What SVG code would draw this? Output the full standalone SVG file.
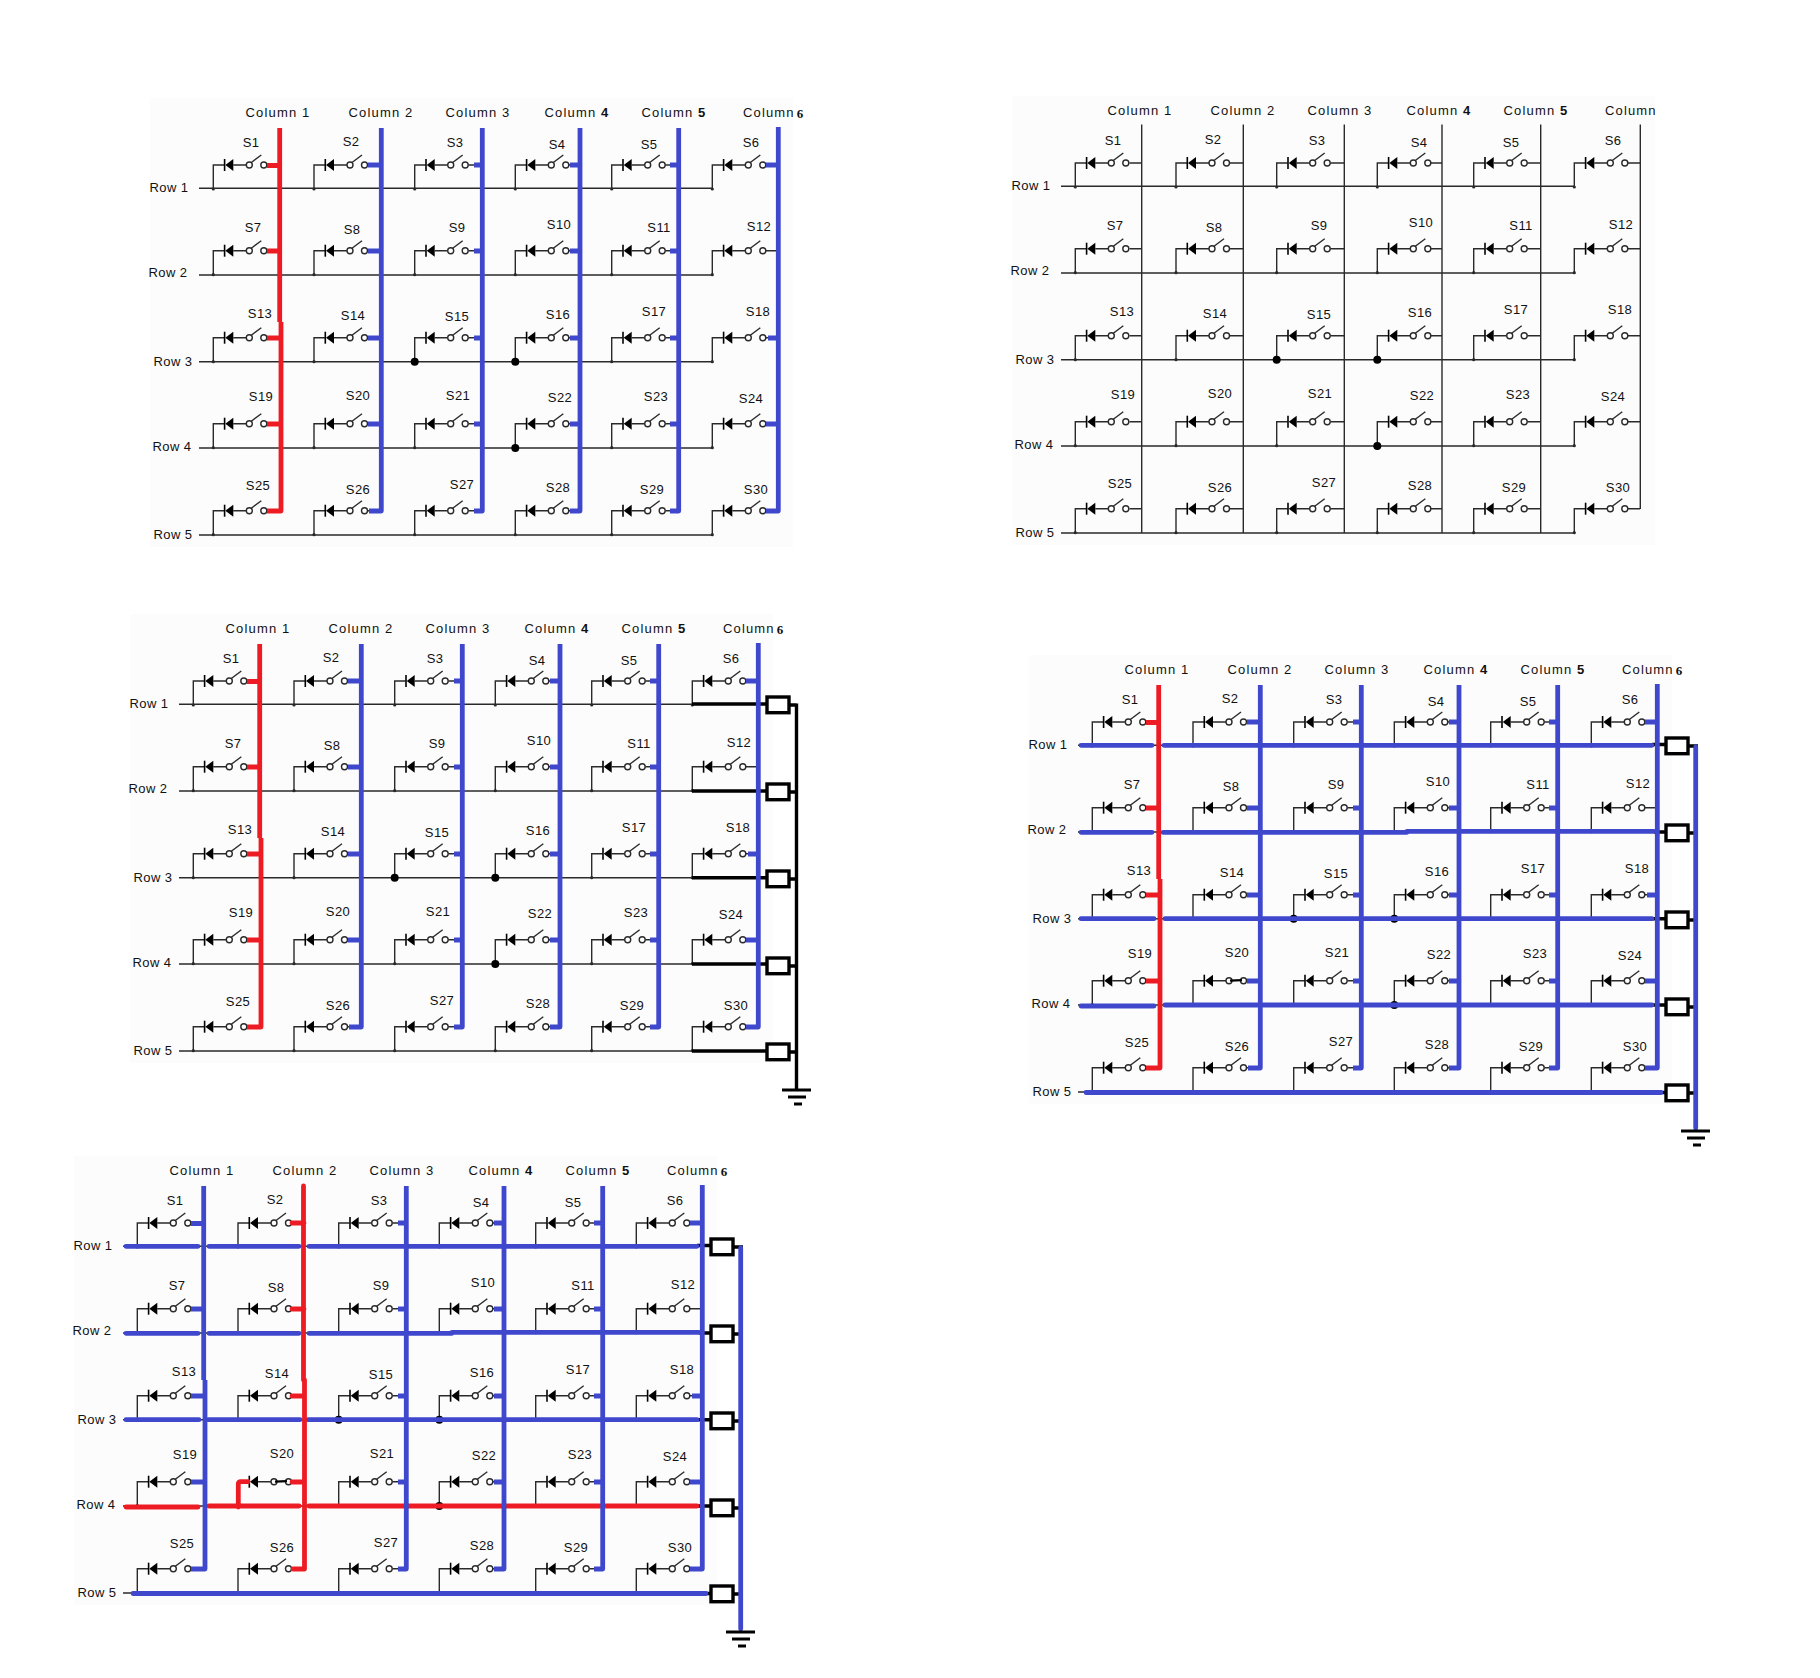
<svg xmlns="http://www.w3.org/2000/svg" width="1820" height="1678" viewBox="0 0 1820 1678">
<style>
.t{font-family:"Liberation Sans",Arial,sans-serif;font-size:13px;fill:#111;text-anchor:middle;letter-spacing:.4px;transform:translate(0,-.7px)}
.h{letter-spacing:1.15px;transform:translate(1px,-1px)}
.l{text-anchor:start;transform:translate(0,-1px)}
.d{font-family:"Liberation Serif",serif;font-weight:bold}
.b{font-weight:bold}
.bg{fill:#fcfcfc}
.n{fill:none;stroke:#2a2a2a;stroke-width:1.4}
.k{fill:none;stroke:#000;stroke-width:3.4}
.bl{fill:none;stroke:#3f48cc;stroke-width:4.8;stroke-linecap:round;stroke-linejoin:round}
.re{fill:none;stroke:#ed1c24;stroke-width:4.8;stroke-linecap:round;stroke-linejoin:round}
.bx{fill:#fff;stroke:#000;stroke-width:3.4}
</style>
<defs>
<g id="sw0">
<path class="n" d="M0 24V0H11M20 0H33"/>
<circle cx="0" cy="24" r="1.6" fill="#2a2a2a"/>
<path d="M11.3-6V6" stroke="#000" stroke-width="1.6" fill="none"/>
<polygon points="12,0 20,-6 20,6" fill="#000"/>
<circle class="n" cx="36" cy="0" r="3" style="fill:#fff"/>
<circle class="n" cx="50.5" cy="0" r="3" style="fill:#fff"/>
</g>
<g id="sw"><use href="#sw0"/><path class="n" d="M38-2.5L48-10"/></g>
<g id="swc"><use href="#sw0"/><path d="M37 0L49-.6" fill="none" stroke="#000" stroke-width="2.2"/></g>
<path id="tm" class="n" d="M267.5 0H280M368 0H381M468.5 0H482M569 0H580M665.5 0H679M766 0H778"/>
<path id="rw" class="n" d="M199 0H712.3"/>
<path id="c1" stroke-linecap="butt" d="M279.7 128V322M281 322V511H267M267 165.5H280M267 251H280M267 338H281M267 424H281"/>
<path id="c2" stroke-linecap="butt" d="M381.3 128V511H369M368 165H381M368 251H381M368 338H381M368 424H381"/>
<path id="c3" stroke-linecap="butt" d="M482.3 128V511H474M474 165H482M474 251H482M474 338H482M474 424H482"/>
<path id="c4" stroke-linecap="butt" d="M580 128V511H570M570 165H580M570 251H580M570 338H580M570 424H580"/>
<path id="c5" stroke-linecap="butt" d="M678.7 128V511H670M670 165H678M670 251H678M670 338H678M670 424H678"/>
<path id="c6" stroke-linecap="butt" d="M778.3 127V511H766M766 165H778M768 338H778M766 424H778"/>
<g id="dots" fill="#000"><circle cx="414.7" cy="361.7" r="4"/><circle cx="515.3" cy="361.7" r="4"/><circle cx="515.3" cy="448" r="4"/></g>
<g id="gnd" fill="none" stroke="#000" stroke-width="3"><path d="M802 574H831M808 581H826M814 588H822"/></g>
<g id="base"><use href="#rw" y="188.3"/><use href="#rw" y="275"/><use href="#rw" y="361.7"/><use href="#rw" y="448"/><use href="#rw" y="535"/><use href="#tm" y="165"/><use href="#tm" y="250.7"/><use href="#tm" y="337.7"/><use href="#tm" y="423.7"/><use href="#tm" y="510.7"/><use href="#dots"/></g>
<g id="blues"><use href="#c3" class="bl"/><use href="#c4" class="bl"/><use href="#c5" class="bl"/><use href="#c6" class="bl"/></g>
<g id="boxes"><rect class="bx" x="787" y="181" width="22" height="15.7"/><rect class="bx" x="787" y="268" width="22" height="15.7"/><rect class="bx" x="787" y="355" width="22" height="15.7"/><rect class="bx" x="787" y="442" width="22" height="15.7"/><rect class="bx" x="787" y="528" width="22" height="15.7"/></g>
</defs>
<rect width="1820" height="1678" fill="#fff"/>

<g id="panel1">
<rect class="bg" x="150" y="98" width="643" height="449"/>
<g id="p1-labels">
<text class="t h" x="277" y="118">Column 1</text><text class="t h" x="380" y="118">Column 2</text><text class="t h" x="477" y="118">Column 3</text><text class="t h" x="576" y="118">Column <tspan class="b">4</tspan></text><text class="t h" x="673" y="118">Column <tspan class="b">5</tspan></text><text class="t h l" x="743" y="118">Column<tspan class="d" dx="2" dy="1">6</tspan></text>
<text class="t" x="169" y="193">Row 1</text><text class="t" x="168" y="278">Row 2</text><text class="t" x="173" y="367">Row 3</text><text class="t" x="172" y="452">Row 4</text><text class="t" x="173" y="540">Row 5</text>
</g>
<g id="p1-s1"><use href="#sw" x="213.3" y="165"/><text class="t" x="251" y="148">S1</text></g>
<g id="p1-s2"><use href="#sw" x="314" y="165"/><text class="t" x="351" y="147">S2</text></g>
<g id="p1-s3"><use href="#sw" x="414.7" y="165"/><text class="t" x="455" y="148">S3</text></g>
<g id="p1-s4"><use href="#sw" x="515.3" y="165"/><text class="t" x="557" y="150">S4</text></g>
<g id="p1-s5"><use href="#sw" x="611.7" y="165"/><text class="t" x="649" y="150">S5</text></g>
<g id="p1-s6"><use href="#sw" x="712.3" y="165"/><text class="t" x="751" y="148">S6</text></g>
<g id="p1-s7"><use href="#sw" x="213.3" y="250.7"/><text class="t" x="253" y="233">S7</text></g>
<g id="p1-s8"><use href="#sw" x="314" y="250.7"/><text class="t" x="352" y="235">S8</text></g>
<g id="p1-s9"><use href="#sw" x="414.7" y="250.7"/><text class="t" x="457" y="233">S9</text></g>
<g id="p1-s10"><use href="#sw" x="515.3" y="250.7"/><text class="t" x="559" y="230">S10</text></g>
<g id="p1-s11"><use href="#sw" x="611.7" y="250.7"/><text class="t" x="659" y="233">S11</text></g>
<g id="p1-s12"><use href="#sw" x="712.3" y="250.7"/><text class="t" x="759" y="232">S12</text></g>
<g id="p1-s13"><use href="#sw" x="213.3" y="337.7"/><text class="t" x="260" y="319">S13</text></g>
<g id="p1-s14"><use href="#sw" x="314" y="337.7"/><text class="t" x="353" y="321">S14</text></g>
<g id="p1-s15"><use href="#sw" x="414.7" y="337.7"/><text class="t" x="457" y="322">S15</text></g>
<g id="p1-s16"><use href="#sw" x="515.3" y="337.7"/><text class="t" x="558" y="320">S16</text></g>
<g id="p1-s17"><use href="#sw" x="611.7" y="337.7"/><text class="t" x="654" y="317">S17</text></g>
<g id="p1-s18"><use href="#sw" x="712.3" y="337.7"/><text class="t" x="758" y="317">S18</text></g>
<g id="p1-s19"><use href="#sw" x="213.3" y="423.7"/><text class="t" x="261" y="402">S19</text></g>
<g id="p1-s20"><use href="#sw" x="314" y="423.7"/><text class="t" x="358" y="401">S20</text></g>
<g id="p1-s21"><use href="#sw" x="414.7" y="423.7"/><text class="t" x="458" y="401">S21</text></g>
<g id="p1-s22"><use href="#sw" x="515.3" y="423.7"/><text class="t" x="560" y="403">S22</text></g>
<g id="p1-s23"><use href="#sw" x="611.7" y="423.7"/><text class="t" x="656" y="402">S23</text></g>
<g id="p1-s24"><use href="#sw" x="712.3" y="423.7"/><text class="t" x="751" y="404">S24</text></g>
<g id="p1-s25"><use href="#sw" x="213.3" y="510.7"/><text class="t" x="258" y="491">S25</text></g>
<g id="p1-s26"><use href="#sw" x="314" y="510.7"/><text class="t" x="358" y="495">S26</text></g>
<g id="p1-s27"><use href="#sw" x="414.7" y="510.7"/><text class="t" x="462" y="490">S27</text></g>
<g id="p1-s28"><use href="#sw" x="515.3" y="510.7"/><text class="t" x="558" y="493">S28</text></g>
<g id="p1-s29"><use href="#sw" x="611.7" y="510.7"/><text class="t" x="652" y="495">S29</text></g>
<g id="p1-s30"><use href="#sw" x="712.3" y="510.7"/><text class="t" x="756" y="495">S30</text></g>
<g id="p1-connectors"><use href="#base"/><use href="#c1" class="re"/><use href="#c2" class="bl"/><use href="#blues"/></g>
</g>

<g id="panel2" transform="translate(862,-2)">
<rect class="bg" x="150" y="98" width="643" height="449"/>
<g id="p2-labels">
<text class="t h" x="277" y="118">Column 1</text><text class="t h" x="380" y="118">Column 2</text><text class="t h" x="477" y="118">Column 3</text><text class="t h" x="576" y="118">Column <tspan class="b">4</tspan></text><text class="t h" x="673" y="118">Column <tspan class="b">5</tspan></text><text class="t h l" x="743" y="118">Column</text>
<text class="t" x="169" y="193">Row 1</text><text class="t" x="168" y="278">Row 2</text><text class="t" x="173" y="367">Row 3</text><text class="t" x="172" y="452">Row 4</text><text class="t" x="173" y="540">Row 5</text>
</g>
<g id="p2-s1"><use href="#sw" x="213.3" y="165"/><text class="t" x="251" y="148">S1</text></g>
<g id="p2-s2"><use href="#sw" x="314" y="165"/><text class="t" x="351" y="147">S2</text></g>
<g id="p2-s3"><use href="#sw" x="414.7" y="165"/><text class="t" x="455" y="148">S3</text></g>
<g id="p2-s4"><use href="#sw" x="515.3" y="165"/><text class="t" x="557" y="150">S4</text></g>
<g id="p2-s5"><use href="#sw" x="611.7" y="165"/><text class="t" x="649" y="150">S5</text></g>
<g id="p2-s6"><use href="#sw" x="712.3" y="165"/><text class="t" x="751" y="148">S6</text></g>
<g id="p2-s7"><use href="#sw" x="213.3" y="250.7"/><text class="t" x="253" y="233">S7</text></g>
<g id="p2-s8"><use href="#sw" x="314" y="250.7"/><text class="t" x="352" y="235">S8</text></g>
<g id="p2-s9"><use href="#sw" x="414.7" y="250.7"/><text class="t" x="457" y="233">S9</text></g>
<g id="p2-s10"><use href="#sw" x="515.3" y="250.7"/><text class="t" x="559" y="230">S10</text></g>
<g id="p2-s11"><use href="#sw" x="611.7" y="250.7"/><text class="t" x="659" y="233">S11</text></g>
<g id="p2-s12"><use href="#sw" x="712.3" y="250.7"/><text class="t" x="759" y="232">S12</text></g>
<g id="p2-s13"><use href="#sw" x="213.3" y="337.7"/><text class="t" x="260" y="319">S13</text></g>
<g id="p2-s14"><use href="#sw" x="314" y="337.7"/><text class="t" x="353" y="321">S14</text></g>
<g id="p2-s15"><use href="#sw" x="414.7" y="337.7"/><text class="t" x="457" y="322">S15</text></g>
<g id="p2-s16"><use href="#sw" x="515.3" y="337.7"/><text class="t" x="558" y="320">S16</text></g>
<g id="p2-s17"><use href="#sw" x="611.7" y="337.7"/><text class="t" x="654" y="317">S17</text></g>
<g id="p2-s18"><use href="#sw" x="712.3" y="337.7"/><text class="t" x="758" y="317">S18</text></g>
<g id="p2-s19"><use href="#sw" x="213.3" y="423.7"/><text class="t" x="261" y="402">S19</text></g>
<g id="p2-s20"><use href="#sw" x="314" y="423.7"/><text class="t" x="358" y="401">S20</text></g>
<g id="p2-s21"><use href="#sw" x="414.7" y="423.7"/><text class="t" x="458" y="401">S21</text></g>
<g id="p2-s22"><use href="#sw" x="515.3" y="423.7"/><text class="t" x="560" y="403">S22</text></g>
<g id="p2-s23"><use href="#sw" x="611.7" y="423.7"/><text class="t" x="656" y="402">S23</text></g>
<g id="p2-s24"><use href="#sw" x="712.3" y="423.7"/><text class="t" x="751" y="404">S24</text></g>
<g id="p2-s25"><use href="#sw" x="213.3" y="510.7"/><text class="t" x="258" y="491">S25</text></g>
<g id="p2-s26"><use href="#sw" x="314" y="510.7"/><text class="t" x="358" y="495">S26</text></g>
<g id="p2-s27"><use href="#sw" x="414.7" y="510.7"/><text class="t" x="462" y="490">S27</text></g>
<g id="p2-s28"><use href="#sw" x="515.3" y="510.7"/><text class="t" x="558" y="493">S28</text></g>
<g id="p2-s29"><use href="#sw" x="611.7" y="510.7"/><text class="t" x="652" y="495">S29</text></g>
<g id="p2-s30"><use href="#sw" x="712.3" y="510.7"/><text class="t" x="756" y="495">S30</text></g>
<g id="p2-connectors"><use href="#base"/><path class="n" d="M279.7 126.5V535M381.3 126.5V535M482.3 126.5V535M580 126.5V535M678.7 126.5V535M778.3 126.5V511"/></g>
</g>

<g id="panel3" transform="translate(-20,516)">
<rect class="bg" x="150" y="98" width="643" height="449"/>
<g id="p3-labels">
<text class="t h" x="277" y="118">Column 1</text><text class="t h" x="380" y="118">Column 2</text><text class="t h" x="477" y="118">Column 3</text><text class="t h" x="576" y="118">Column <tspan class="b">4</tspan></text><text class="t h" x="673" y="118">Column <tspan class="b">5</tspan></text><text class="t h l" x="743" y="118">Column<tspan class="d" dx="2" dy="1">6</tspan></text>
<text class="t" x="169" y="193">Row 1</text><text class="t" x="168" y="278">Row 2</text><text class="t" x="173" y="367">Row 3</text><text class="t" x="172" y="452">Row 4</text><text class="t" x="173" y="540">Row 5</text>
</g>
<g id="p3-s1"><use href="#sw" x="213.3" y="165"/><text class="t" x="251" y="148">S1</text></g>
<g id="p3-s2"><use href="#sw" x="314" y="165"/><text class="t" x="351" y="147">S2</text></g>
<g id="p3-s3"><use href="#sw" x="414.7" y="165"/><text class="t" x="455" y="148">S3</text></g>
<g id="p3-s4"><use href="#sw" x="515.3" y="165"/><text class="t" x="557" y="150">S4</text></g>
<g id="p3-s5"><use href="#sw" x="611.7" y="165"/><text class="t" x="649" y="150">S5</text></g>
<g id="p3-s6"><use href="#sw" x="712.3" y="165"/><text class="t" x="751" y="148">S6</text></g>
<g id="p3-s7"><use href="#sw" x="213.3" y="250.7"/><text class="t" x="253" y="233">S7</text></g>
<g id="p3-s8"><use href="#sw" x="314" y="250.7"/><text class="t" x="352" y="235">S8</text></g>
<g id="p3-s9"><use href="#sw" x="414.7" y="250.7"/><text class="t" x="457" y="233">S9</text></g>
<g id="p3-s10"><use href="#sw" x="515.3" y="250.7"/><text class="t" x="559" y="230">S10</text></g>
<g id="p3-s11"><use href="#sw" x="611.7" y="250.7"/><text class="t" x="659" y="233">S11</text></g>
<g id="p3-s12"><use href="#sw" x="712.3" y="250.7"/><text class="t" x="759" y="232">S12</text></g>
<g id="p3-s13"><use href="#sw" x="213.3" y="337.7"/><text class="t" x="260" y="319">S13</text></g>
<g id="p3-s14"><use href="#sw" x="314" y="337.7"/><text class="t" x="353" y="321">S14</text></g>
<g id="p3-s15"><use href="#sw" x="414.7" y="337.7"/><text class="t" x="457" y="322">S15</text></g>
<g id="p3-s16"><use href="#sw" x="515.3" y="337.7"/><text class="t" x="558" y="320">S16</text></g>
<g id="p3-s17"><use href="#sw" x="611.7" y="337.7"/><text class="t" x="654" y="317">S17</text></g>
<g id="p3-s18"><use href="#sw" x="712.3" y="337.7"/><text class="t" x="758" y="317">S18</text></g>
<g id="p3-s19"><use href="#sw" x="213.3" y="423.7"/><text class="t" x="261" y="402">S19</text></g>
<g id="p3-s20"><use href="#sw" x="314" y="423.7"/><text class="t" x="358" y="401">S20</text></g>
<g id="p3-s21"><use href="#sw" x="414.7" y="423.7"/><text class="t" x="458" y="401">S21</text></g>
<g id="p3-s22"><use href="#sw" x="515.3" y="423.7"/><text class="t" x="560" y="403">S22</text></g>
<g id="p3-s23"><use href="#sw" x="611.7" y="423.7"/><text class="t" x="656" y="402">S23</text></g>
<g id="p3-s24"><use href="#sw" x="712.3" y="423.7"/><text class="t" x="751" y="404">S24</text></g>
<g id="p3-s25"><use href="#sw" x="213.3" y="510.7"/><text class="t" x="258" y="491">S25</text></g>
<g id="p3-s26"><use href="#sw" x="314" y="510.7"/><text class="t" x="358" y="495">S26</text></g>
<g id="p3-s27"><use href="#sw" x="414.7" y="510.7"/><text class="t" x="462" y="490">S27</text></g>
<g id="p3-s28"><use href="#sw" x="515.3" y="510.7"/><text class="t" x="558" y="493">S28</text></g>
<g id="p3-s29"><use href="#sw" x="611.7" y="510.7"/><text class="t" x="652" y="495">S29</text></g>
<g id="p3-s30"><use href="#sw" x="712.3" y="510.7"/><text class="t" x="756" y="495">S30</text></g>
<g id="p3-connectors"><use href="#base"/><path class="k" d="M712 188H787M712 275H787M712 361.7H787M712 448H787M712 535H787"/><use href="#c1" class="re"/><use href="#c2" class="bl"/><use href="#blues"/>
<path class="k" d="M809 189H816.5M809 276H816.5M809 363H816.5M809 450H816.5M809 536H816.5M816.5 187.5V574"/><use href="#gnd"/></g>
<g id="p3-fuses"><use href="#boxes"/></g>
</g>

<g id="panel4" transform="translate(879,557)">
<rect class="bg" x="150" y="98" width="643" height="449"/>
<g id="p4-labels">
<text class="t h" x="277" y="118">Column 1</text><text class="t h" x="380" y="118">Column 2</text><text class="t h" x="477" y="118">Column 3</text><text class="t h" x="576" y="118">Column <tspan class="b">4</tspan></text><text class="t h" x="673" y="118">Column <tspan class="b">5</tspan></text><text class="t h l" x="743" y="118">Column<tspan class="d" dx="2" dy="1">6</tspan></text>
<text class="t" x="169" y="193">Row 1</text><text class="t" x="168" y="278">Row 2</text><text class="t" x="173" y="367">Row 3</text><text class="t" x="172" y="452">Row 4</text><text class="t" x="173" y="540">Row 5</text>
</g>
<g id="p4-s1"><use href="#sw" x="213.3" y="165"/><text class="t" x="251" y="148">S1</text></g>
<g id="p4-s2"><use href="#sw" x="314" y="165"/><text class="t" x="351" y="147">S2</text></g>
<g id="p4-s3"><use href="#sw" x="414.7" y="165"/><text class="t" x="455" y="148">S3</text></g>
<g id="p4-s4"><use href="#sw" x="515.3" y="165"/><text class="t" x="557" y="150">S4</text></g>
<g id="p4-s5"><use href="#sw" x="611.7" y="165"/><text class="t" x="649" y="150">S5</text></g>
<g id="p4-s6"><use href="#sw" x="712.3" y="165"/><text class="t" x="751" y="148">S6</text></g>
<g id="p4-s7"><use href="#sw" x="213.3" y="250.7"/><text class="t" x="253" y="233">S7</text></g>
<g id="p4-s8"><use href="#sw" x="314" y="250.7"/><text class="t" x="352" y="235">S8</text></g>
<g id="p4-s9"><use href="#sw" x="414.7" y="250.7"/><text class="t" x="457" y="233">S9</text></g>
<g id="p4-s10"><use href="#sw" x="515.3" y="250.7"/><text class="t" x="559" y="230">S10</text></g>
<g id="p4-s11"><use href="#sw" x="611.7" y="250.7"/><text class="t" x="659" y="233">S11</text></g>
<g id="p4-s12"><use href="#sw" x="712.3" y="250.7"/><text class="t" x="759" y="232">S12</text></g>
<g id="p4-s13"><use href="#sw" x="213.3" y="337.7"/><text class="t" x="260" y="319">S13</text></g>
<g id="p4-s14"><use href="#sw" x="314" y="337.7"/><text class="t" x="353" y="321">S14</text></g>
<g id="p4-s15"><use href="#sw" x="414.7" y="337.7"/><text class="t" x="457" y="322">S15</text></g>
<g id="p4-s16"><use href="#sw" x="515.3" y="337.7"/><text class="t" x="558" y="320">S16</text></g>
<g id="p4-s17"><use href="#sw" x="611.7" y="337.7"/><text class="t" x="654" y="317">S17</text></g>
<g id="p4-s18"><use href="#sw" x="712.3" y="337.7"/><text class="t" x="758" y="317">S18</text></g>
<g id="p4-s19"><use href="#sw" x="213.3" y="423.7"/><text class="t" x="261" y="402">S19</text></g>
<g id="p4-s20"><use href="#swc" x="314" y="423.7"/><text class="t" x="358" y="401">S20</text></g>
<g id="p4-s21"><use href="#sw" x="414.7" y="423.7"/><text class="t" x="458" y="401">S21</text></g>
<g id="p4-s22"><use href="#sw" x="515.3" y="423.7"/><text class="t" x="560" y="403">S22</text></g>
<g id="p4-s23"><use href="#sw" x="611.7" y="423.7"/><text class="t" x="656" y="402">S23</text></g>
<g id="p4-s24"><use href="#sw" x="712.3" y="423.7"/><text class="t" x="751" y="404">S24</text></g>
<g id="p4-s25"><use href="#sw" x="213.3" y="510.7"/><text class="t" x="258" y="491">S25</text></g>
<g id="p4-s26"><use href="#sw" x="314" y="510.7"/><text class="t" x="358" y="495">S26</text></g>
<g id="p4-s27"><use href="#sw" x="414.7" y="510.7"/><text class="t" x="462" y="490">S27</text></g>
<g id="p4-s28"><use href="#sw" x="515.3" y="510.7"/><text class="t" x="558" y="493">S28</text></g>
<g id="p4-s29"><use href="#sw" x="611.7" y="510.7"/><text class="t" x="652" y="495">S29</text></g>
<g id="p4-s30"><use href="#sw" x="712.3" y="510.7"/><text class="t" x="756" y="495">S30</text></g>
<g id="p4-connectors"><use href="#base"/>
<path class="k" d="M773 187.5H787M775 275H787M773 361.7H787M773 448H787M782 535.5H787"/>
<path class="bl" d="M202 188.3H273M285 188.3H773M202 275.3H273M284 275.3H528M528 274.3H775M202 361.7H275M286 361.7H773M202 449H275M286 448H773M207 535.5H782"/>
<use href="#c1" class="re"/><use href="#c2" class="bl"/><use href="#blues"/>
<path class="k" d="M809 189H819M809 276H815M809 363H815M809 450H815M809 536H815"/><path class="bl" d="M816.7 190V571"/><use href="#gnd"/></g>
<g id="p4-fuses"><use href="#boxes"/></g>
</g>

<g id="panel5" transform="translate(-76,1058)">
<rect class="bg" x="150" y="98" width="643" height="449"/>
<g id="p5-labels">
<text class="t h" x="277" y="118">Column 1</text><text class="t h" x="380" y="118">Column 2</text><text class="t h" x="477" y="118">Column 3</text><text class="t h" x="576" y="118">Column <tspan class="b">4</tspan></text><text class="t h" x="673" y="118">Column <tspan class="b">5</tspan></text><text class="t h l" x="743" y="118">Column<tspan class="d" dx="2" dy="1">6</tspan></text>
<text class="t" x="169" y="193">Row 1</text><text class="t" x="168" y="278">Row 2</text><text class="t" x="173" y="367">Row 3</text><text class="t" x="172" y="452">Row 4</text><text class="t" x="173" y="540">Row 5</text>
</g>
<g id="p5-s1"><use href="#sw" x="213.3" y="165"/><text class="t" x="251" y="148">S1</text></g>
<g id="p5-s2"><use href="#sw" x="314" y="165"/><text class="t" x="351" y="147">S2</text></g>
<g id="p5-s3"><use href="#sw" x="414.7" y="165"/><text class="t" x="455" y="148">S3</text></g>
<g id="p5-s4"><use href="#sw" x="515.3" y="165"/><text class="t" x="557" y="150">S4</text></g>
<g id="p5-s5"><use href="#sw" x="611.7" y="165"/><text class="t" x="649" y="150">S5</text></g>
<g id="p5-s6"><use href="#sw" x="712.3" y="165"/><text class="t" x="751" y="148">S6</text></g>
<g id="p5-s7"><use href="#sw" x="213.3" y="250.7"/><text class="t" x="253" y="233">S7</text></g>
<g id="p5-s8"><use href="#sw" x="314" y="250.7"/><text class="t" x="352" y="235">S8</text></g>
<g id="p5-s9"><use href="#sw" x="414.7" y="250.7"/><text class="t" x="457" y="233">S9</text></g>
<g id="p5-s10"><use href="#sw" x="515.3" y="250.7"/><text class="t" x="559" y="230">S10</text></g>
<g id="p5-s11"><use href="#sw" x="611.7" y="250.7"/><text class="t" x="659" y="233">S11</text></g>
<g id="p5-s12"><use href="#sw" x="712.3" y="250.7"/><text class="t" x="759" y="232">S12</text></g>
<g id="p5-s13"><use href="#sw" x="213.3" y="337.7"/><text class="t" x="260" y="319">S13</text></g>
<g id="p5-s14"><use href="#sw" x="314" y="337.7"/><text class="t" x="353" y="321">S14</text></g>
<g id="p5-s15"><use href="#sw" x="414.7" y="337.7"/><text class="t" x="457" y="322">S15</text></g>
<g id="p5-s16"><use href="#sw" x="515.3" y="337.7"/><text class="t" x="558" y="320">S16</text></g>
<g id="p5-s17"><use href="#sw" x="611.7" y="337.7"/><text class="t" x="654" y="317">S17</text></g>
<g id="p5-s18"><use href="#sw" x="712.3" y="337.7"/><text class="t" x="758" y="317">S18</text></g>
<g id="p5-s19"><use href="#sw" x="213.3" y="423.7"/><text class="t" x="261" y="402">S19</text></g>
<g id="p5-s20"><use href="#swc" x="314" y="423.7"/><text class="t" x="358" y="401">S20</text></g>
<g id="p5-s21"><use href="#sw" x="414.7" y="423.7"/><text class="t" x="458" y="401">S21</text></g>
<g id="p5-s22"><use href="#sw" x="515.3" y="423.7"/><text class="t" x="560" y="403">S22</text></g>
<g id="p5-s23"><use href="#sw" x="611.7" y="423.7"/><text class="t" x="656" y="402">S23</text></g>
<g id="p5-s24"><use href="#sw" x="712.3" y="423.7"/><text class="t" x="751" y="404">S24</text></g>
<g id="p5-s25"><use href="#sw" x="213.3" y="510.7"/><text class="t" x="258" y="491">S25</text></g>
<g id="p5-s26"><use href="#sw" x="314" y="510.7"/><text class="t" x="358" y="495">S26</text></g>
<g id="p5-s27"><use href="#sw" x="414.7" y="510.7"/><text class="t" x="462" y="490">S27</text></g>
<g id="p5-s28"><use href="#sw" x="515.3" y="510.7"/><text class="t" x="558" y="493">S28</text></g>
<g id="p5-s29"><use href="#sw" x="611.7" y="510.7"/><text class="t" x="652" y="495">S29</text></g>
<g id="p5-s30"><use href="#sw" x="712.3" y="510.7"/><text class="t" x="756" y="495">S30</text></g>
<g id="p5-connectors"><use href="#base"/>
<path class="k" d="M773 187.5H787M775 275H787M773 361.7H787M773 448H787M782 535.5H787"/>
<path class="bl" d="M202 188.3H274M285 188.3H375M385 188.3H773M202 275.3H274M285 275.3H375M385 275.3H528M528 274.3H775M202 361.7H275M284 361.7H376M384 361.7H773M209 535.5H782"/>
<path class="re" d="M202 449H274M285 448H375M385 448H773M314.3 449V426Q314.3 423.7 317 423.7H324"/>
<use href="#c1" class="bl"/>
<path class="re" stroke-linecap="butt" d="M379.5 128V322M380.5 322V511H369M368 165H380M368 251H380M368 338H380M368 424H380"/>
<use href="#blues"/>
<path class="k" d="M809 189H819M809 276H815M809 363H815M809 450H815M809 536H815"/><path class="bl" d="M816.7 190V571"/><use href="#gnd"/></g>
<g id="p5-fuses"><use href="#boxes"/></g>
</g>
</svg>
